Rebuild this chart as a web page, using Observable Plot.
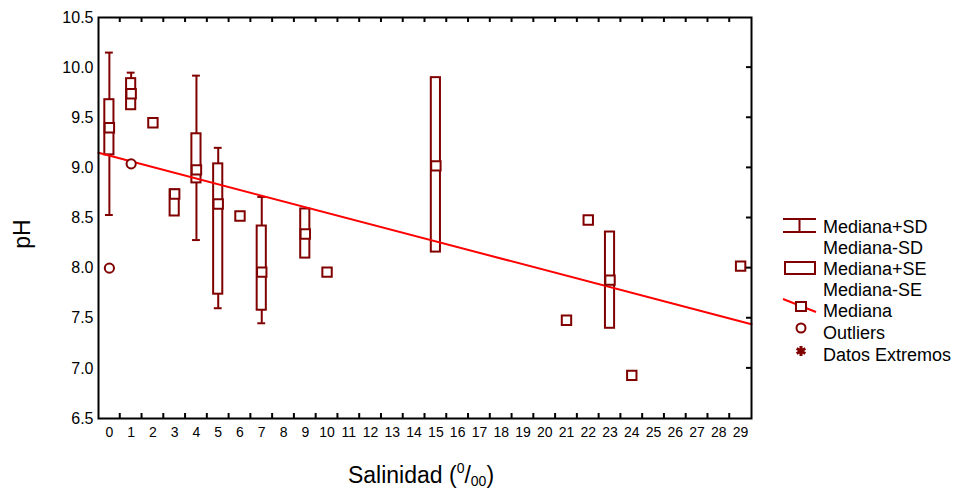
<!DOCTYPE html>
<html>
<head>
<meta charset="utf-8">
<script src="https://cdn.jsdelivr.net/npm/d3@7"></script>
<script src="https://cdn.jsdelivr.net/npm/@observablehq/plot@0.6"></script>
<style>
  html, body { margin: 0; padding: 0; background: #fff; }
  #chart { position: relative; width: 961px; height: 492px; }
  svg { font-family: "Liberation Sans", Arial, sans-serif; }
</style>
</head>
<body>
<div id="chart"></div>
<script>
// ---- data ----
const salinity = [0, 1, 2, 3, 4, 5, 6, 7, 9, 10, 15, 21, 22, 23, 24, 29];
const median   = [9.40, 9.74, 9.45, 8.74, 8.98, 8.64, 8.52, 7.96, 8.34, 7.96, 9.02, 7.48, 8.48, 7.88, 6.93, 8.02];
const seHigh   = [9.68, 9.89, null, 8.78, 9.34, 9.04, null, 8.42, 8.59, null, 9.90, null, null, 8.36, null, null];
const seLow    = [9.13, 9.58, null, 8.52, 8.85, 7.74, null, 7.58, 8.10, null, 8.16, null, null, 7.40, null, null];
const sdHigh   = [10.15, 9.95, null, null, 9.92, 9.20, null, 8.71, null, null, null, null, null, null, null, null];
const sdLow    = [8.53, null, null, null, 8.28, 7.60, null, 7.45, null, null, null, null, null, null, null, null];

const outlierSal = [0, 1];
const outlierPH  = [8.00, 9.04];

// regression line end points (salinity, pH)
const regSal = [-0.5, 29.5];
const regPH  = [9.15, 7.44];

const xTicks = [0,1,2,3,4,5,6,7,8,9,10,11,12,13,14,15,16,17,18,19,20,21,22,23,24,25,26,27,28,29];
const yTicks = [6.5, 7.0, 7.5, 8.0, 8.5, 9.0, 9.5, 10.0, 10.5];

const legendLabels = ["Mediana+SD", "Mediana-SD", "Mediana+SE", "Mediana-SE", "Mediana", "Outliers", "Datos Extremos"];

// ---- build tables ----
const DR = "#800000";
const rows = salinity.map((s, i) => ({s, med: median[i], seHi: seHigh[i], seLo: seLow[i], sdHi: sdHigh[i], sdLo: sdLow[i]}));
const boxes = rows.filter(d => d.seHi != null);
const whisk = rows.filter(d => d.sdHi != null || d.sdLo != null);
const capsHi = rows.filter(d => d.sdHi != null);
const capsLo = rows.filter(d => d.sdLo != null);
const outliers = outlierSal.map((s, i) => ({s, v: outlierPH[i]}));
const reg = regSal.map((s, i) => ({s, v: regPH[i]}));
const bounds = xTicks.slice(0, -1).map(t => t + 0.5);
const yInner = yTicks.slice(1, -1);

const W = 961, H = 492, ML = 98, MR = 210, MT = 17, MB = 74;
const xDom = [-0.5, 29.5], yDom = [6.5, 10.5];

const chart = Plot.plot({
  width: W,
  height: H,
  marginLeft: ML,
  marginRight: MR,
  marginTop: MT,
  marginBottom: MB,
  style: {fontFamily: '"Liberation Sans", Arial, sans-serif', color: "#000", background: "#fff"},
  x: {domain: xDom},
  y: {domain: yDom},
  marks: [
    Plot.ruleX(whisk, {x: "s", y1: d => d.sdLo ?? d.seLo, y2: d => d.sdHi ?? d.seHi, stroke: DR, strokeWidth: 2}),
    Plot.ruleY(capsHi, {y: "sdHi", x1: d => d.s - 0.18, x2: d => d.s + 0.18, stroke: DR, strokeWidth: 2}),
    Plot.ruleY(capsLo, {y: "sdLo", x1: d => d.s - 0.18, x2: d => d.s + 0.18, stroke: DR, strokeWidth: 2}),
    Plot.rect(boxes, {x1: d => d.s - 0.21, x2: d => d.s + 0.21, y1: "seLo", y2: "seHi", fill: "white", stroke: DR, strokeWidth: 2}),
    Plot.line(reg, {x: "s", y: "v", stroke: "#ff0000", strokeWidth: 2}),
    Plot.dot(rows, {x: "s", y: "med", symbol: "square", r: 5.3, fill: "white", stroke: DR, strokeWidth: 2}),
    Plot.dot(outliers, {x: "s", y: "v", r: 4.6, fill: "white", stroke: DR, strokeWidth: 2}),
    Plot.axisY({ticks: yTicks, tickSize: 0, tickPadding: 5, tickFormat: ".1f", fontSize: 16, label: null}),
    Plot.axisX({ticks: xTicks, tickSize: 0, tickPadding: 9, fontSize: 14, label: null}),
    Plot.frame({stroke: "#000", strokeWidth: 2})
  ]
});
document.getElementById("chart").appendChild(chart);

const svg = d3.select(chart);
const font = '"Liberation Sans", Arial, sans-serif';
const sx = chart.scale("x"), sy = chart.scale("y");
const fx1 = sx.apply(xDom[1]);
const fy0 = sy.apply(yDom[0]), fy1 = sy.apply(yDom[1]);
const T = 5;

// ---- inward tick marks, placed through Plot's own scales ----
const tg = svg.append("g").attr("stroke", "#000").attr("stroke-width", 2);
tg.selectAll("line.tb").data(bounds).join("line")
  .attr("x1", d => sx.apply(d)).attr("x2", d => sx.apply(d))
  .attr("y1", fy0).attr("y2", fy0 - T);
tg.selectAll("line.tt").data(bounds).join("line")
  .attr("x1", d => sx.apply(d)).attr("x2", d => sx.apply(d))
  .attr("y1", fy1).attr("y2", fy1 + T);
tg.selectAll("line.tr").data(yInner).join("line")
  .attr("x1", fx1).attr("x2", fx1 - T)
  .attr("y1", d => sy.apply(d)).attr("y2", d => sy.apply(d));

// ---- titles ----
svg.append("text")
  .attr("transform", "translate(30,234) rotate(-90)")
  .attr("text-anchor", "middle")
  .attr("font-family", font).attr("font-size", 23).attr("fill", "#000")
  .text("pH");

const xt = svg.append("text")
  .attr("x", 421).attr("y", 483)
  .attr("text-anchor", "middle")
  .attr("font-family", font).attr("font-size", 23).attr("fill", "#000");
xt.append("tspan").text("Salinidad (");
xt.append("tspan").attr("font-size", 14).attr("dy", -10).text("0");
xt.append("tspan").attr("dy", 10).text("/");
xt.append("tspan").attr("font-size", 14).attr("dy", 3).text("00");
xt.append("tspan").attr("dy", -3).text(")");

// ---- legend ----
const lg = svg.append("g").attr("text-anchor", "start");
const rowY = [227, 248, 269, 290, 311, 333, 355];
lg.selectAll("text.lbl").data(legendLabels).join("text")
  .attr("x", 823).attr("y", (d, i) => rowY[i])
  .attr("dy", "0.35em")
  .attr("text-anchor", "start")
  .attr("font-family", font).attr("font-size", 18).attr("fill", "#000")
  .text(d => d);

lg.append("path").attr("d", "M783,219H816M783,232H816M799.5,219V232")
  .attr("stroke", DR).attr("stroke-width", 2).attr("fill", "none");
lg.append("rect").attr("x", 785).attr("y", 262).attr("width", 30).attr("height", 12)
  .attr("stroke", DR).attr("stroke-width", 2).attr("fill", "white");
lg.append("line").attr("x1", 783).attr("y1", 299).attr("x2", 816).attr("y2", 312)
  .attr("stroke", "#ff0000").attr("stroke-width", 2);
lg.append("rect").attr("x", 796).attr("y", 302).attr("width", 10).attr("height", 9)
  .attr("stroke", DR).attr("stroke-width", 2).attr("fill", "white");
lg.append("circle").attr("cx", 801).attr("cy", 328).attr("r", 4.5)
  .attr("stroke", DR).attr("stroke-width", 2).attr("fill", "white");
lg.append("path").attr("d", d3.symbol(d3.symbolAsterisk, 70)())
  .attr("transform", "translate(801,351)")
  .attr("stroke", DR).attr("stroke-width", 3).attr("fill", "none");
</script>
</body>
</html>
